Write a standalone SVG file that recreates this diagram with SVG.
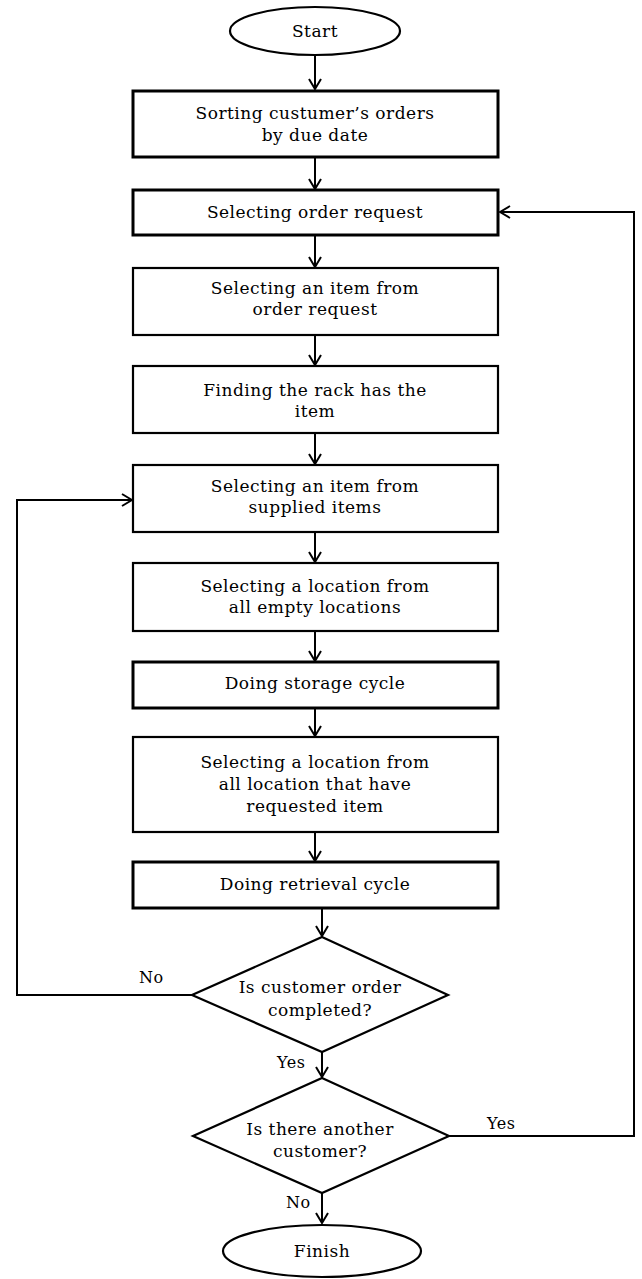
<svg xmlns="http://www.w3.org/2000/svg" width="642" height="1279" viewBox="0 0 642 1279">
<style>
.n{fill:#fff;stroke:#000;stroke-width:2.2}
.k{fill:#fff;stroke:#000;stroke-width:3}
.t{font-family:"DejaVu Serif","Liberation Serif",serif;font-size:17px;letter-spacing:0.5px;fill:#000;text-anchor:middle}
.c{fill:none;stroke:#000;stroke-width:2}
.l{font-family:"DejaVu Serif","Liberation Serif",serif;font-size:16px;letter-spacing:0.5px;fill:#000}
</style>
<defs>
<marker id="a" viewBox="0 0 12 14" refX="11" refY="7" markerWidth="12" markerHeight="14" markerUnits="userSpaceOnUse" orient="auto">
<path d="M1,1 L11,7 L1,13" fill="none" stroke="#000" stroke-width="2"/>
</marker>
</defs>
<rect width="642" height="1279" fill="#fff"/>
<g id="connectors">
<path class="c" d="M315,56 V89" marker-end="url(#a)"/>
<path class="c" d="M315,158 V189" marker-end="url(#a)"/>
<path class="c" d="M315,236 V267" marker-end="url(#a)"/>
<path class="c" d="M315,336 V365" marker-end="url(#a)"/>
<path class="c" d="M315,434 V464" marker-end="url(#a)"/>
<path class="c" d="M315,533 V562" marker-end="url(#a)"/>
<path class="c" d="M315,632 V661" marker-end="url(#a)"/>
<path class="c" d="M315,709 V736" marker-end="url(#a)"/>
<path class="c" d="M315,833 V861" marker-end="url(#a)"/>
<path class="c" d="M322,909 V936" marker-end="url(#a)"/>
<path class="c" d="M322,1052 V1077" marker-end="url(#a)"/>
<path class="c" d="M322,1193 V1223" marker-end="url(#a)"/>
<path class="c" d="M192,995 H17 V500 H132" marker-end="url(#a)"/>
<path class="c" d="M449,1136 H634 V212 H500" marker-end="url(#a)"/>
<text class="l" x="139" y="983">No</text>
<text class="l" x="487" y="1129">Yes</text>
<text class="l" x="277" y="1068">Yes</text>
<text class="l" x="286" y="1208">No</text>
</g>
<g id="start">
<ellipse class="n" cx="315" cy="31" rx="85" ry="24"/>
<text class="t" x="315" y="37">Start</text>
</g>
<g id="sort">
<rect class="k" x="133" y="91" width="365" height="66"/>
<text class="t" x="315" y="119">Sorting custumer’s orders</text>
<text class="t" x="315" y="141">by due date</text>
</g>
<g id="selorder">
<rect class="k" x="133" y="190" width="365" height="45"/>
<text class="t" x="315" y="218">Selecting order request</text>
</g>
<g id="selitem">
<rect class="n" x="133" y="268" width="365" height="67"/>
<text class="t" x="315" y="294">Selecting an item from</text>
<text class="t" x="315" y="315">order request</text>
</g>
<g id="rack">
<rect class="n" x="133" y="366" width="365" height="67"/>
<text class="t" x="315" y="396">Finding the rack has the</text>
<text class="t" x="315" y="417">item</text>
</g>
<g id="supplied">
<rect class="n" x="133" y="465" width="365" height="67"/>
<text class="t" x="315" y="492">Selecting an item from</text>
<text class="t" x="315" y="513">supplied items</text>
</g>
<g id="emptyloc">
<rect class="n" x="133" y="563" width="365" height="68"/>
<text class="t" x="315" y="592">Selecting a location from</text>
<text class="t" x="315" y="613">all empty locations</text>
</g>
<g id="storage">
<rect class="k" x="133" y="662" width="365" height="46"/>
<text class="t" x="315" y="689">Doing storage cycle</text>
</g>
<g id="reqloc">
<rect class="n" x="133" y="737" width="365" height="95"/>
<text class="t" x="315" y="768">Selecting a location from</text>
<text class="t" x="315" y="790">all location that have</text>
<text class="t" x="315" y="812">requested item</text>
</g>
<g id="retrieval">
<rect class="k" x="133" y="862" width="365" height="46"/>
<text class="t" x="315" y="890">Doing retrieval cycle</text>
</g>
<g id="completed">
<polygon class="n" points="322,937 448,995 322,1052 192,995"/>
<text class="t" x="320" y="993">Is customer order</text>
<text class="t" x="320" y="1016">completed?</text>
</g>
<g id="another">
<polygon class="n" points="322,1078 449,1136 322,1193 193,1136"/>
<text class="t" x="320" y="1135">Is there another</text>
<text class="t" x="320" y="1157">customer?</text>
</g>
<g id="finish">
<ellipse class="n" cx="322" cy="1251" rx="99" ry="26"/>
<text class="t" x="322" y="1257">Finish</text>
</g>
</svg>
